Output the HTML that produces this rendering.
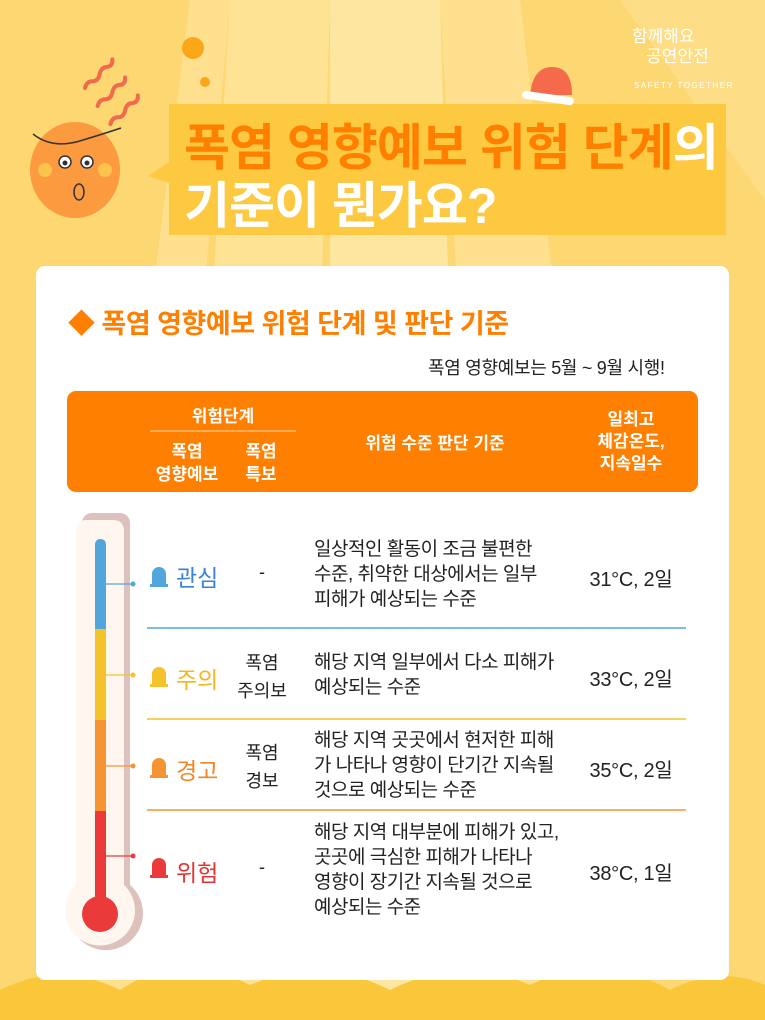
<!DOCTYPE html>
<html><head><meta charset="utf-8"><style>
*{margin:0;padding:0;box-sizing:border-box}
body{width:765px;height:1020px;position:relative;overflow:hidden;background:#fdd772;font-family:"Liberation Sans","Noto Sans CJK KR",sans-serif}
.a{position:absolute}
.t{position:absolute;white-space:nowrap}
.c{text-align:center}
</style></head><body>
<svg class="a" style="left:0;top:0" width="765" height="1020">
<polygon points="190,0 230,0 140,1020 60,1020" fill="#fee08f"/>
<polygon points="230,0 330,0 300,1020 170,1020" fill="#fee395"/>
<polygon points="330,0 440,0 470,1020 330,1020" fill="#fde69f"/>
<polygon points="440,0 520,0 640,1020 500,1020" fill="#fee08f"/>
<polygon points="620,0 765,0 765,200" fill="#fddd85"/>
<path d="M0,1020 L0,990 Q60,960 120,990 Q180,950 250,985 Q320,955 390,990 Q460,955 530,985 Q600,950 670,990 Q720,965 765,985 L765,1020Z" fill="#fbc73a"/>
<circle cx="193" cy="48" r="11" fill="#fba718"/>
<circle cx="205" cy="82" r="5" fill="#fba718"/>
<g stroke="#f26a4e" stroke-width="4" fill="none" stroke-linecap="round">
<path d="M78,78 q5,-5 10,-2 q5,3 10,-3 q5,-5 10,-2 q5,2 8,-4" transform="rotate(-30 100 70) translate(0,0)"/>
<path d="M85,92 q5,-5 10,-2 q5,3 10,-3 q5,-5 10,-2 q5,2 8,-4" transform="rotate(-30 100 70) translate(-5,8)"/>
<path d="M92,106 q5,-5 10,-2 q5,3 10,-3 q5,-5 10,-2 q5,2 8,-4" transform="rotate(-30 100 70) translate(-10,16)"/>
</g>
<ellipse cx="75" cy="170" rx="45" ry="48" fill="#fb9a3f"/>
<circle cx="45" cy="170" r="7" fill="#fcc34d"/><circle cx="105" cy="170" r="7" fill="#fcc34d"/>
<circle cx="65" cy="162" r="6" fill="#fff" stroke="#333" stroke-width="1.5"/><circle cx="65" cy="163" r="2.5" fill="#333"/>
<circle cx="87" cy="162" r="6" fill="#fff" stroke="#333" stroke-width="1.5"/><circle cx="87" cy="163" r="2.5" fill="#333"/>
<ellipse cx="79" cy="192" rx="5" ry="8" fill="none" stroke="#333" stroke-width="1.5"/>
<path d="M33,134 q20,16 50,6 q20,-6 38,-12" stroke="#333" stroke-width="1.5" fill="none"/>
<polygon points="172,160 148,176 172,184" fill="#fdc940"/>
<rect x="169" y="104" width="557" height="131" fill="#fdc940"/>
<path d="M530,95 q3,-28 22,-28 q20,0 20,28z" fill="#f46a4b"/>
<rect x="522" y="94" width="52" height="8" rx="4" fill="#fff" transform="rotate(8 548 98)"/>
<rect x="36" y="266" width="693" height="714" rx="9" fill="#fff"/>
<rect x="67" y="391" width="631" height="101" rx="9" fill="#ff8000"/>
<line x1="150" y1="431" x2="296" y2="431" stroke="#ffd9a8" stroke-width="1"/>
<path d="M92,513 h28 a10,10 0 0 1 10,10 v362 a37,37 0 1 1 -48,0 v-362 a10,10 0 0 1 10,-10z" fill="#ddc1bd"/>
<path d="M86,520 h28 a10,10 0 0 1 10,10 v355 a35,35 0 1 1 -48,0 v-355 a10,10 0 0 1 10,-10z" fill="#fff6f0"/>
<rect x="95" y="539" width="11" height="95" rx="5" fill="#52a6dc"/>
<rect x="95" y="629" width="11" height="91" fill="#f4c22a"/>
<rect x="95" y="720" width="11" height="91" fill="#f69434"/>
<rect x="95" y="811" width="11" height="90" fill="#ea3a3a"/>
<circle cx="100" cy="914" r="18" fill="#ea3a3a"/>
<g stroke-width="1.2">
<line x1="106" y1="584" x2="133" y2="584" stroke="#52a6dc"/><circle cx="133" cy="584" r="2.5" fill="#52a6dc"/>
<line x1="106" y1="675" x2="133" y2="675" stroke="#f4c22a"/><circle cx="133" cy="675" r="2.5" fill="#f4c22a"/>
<line x1="106" y1="766" x2="133" y2="766" stroke="#f69434"/><circle cx="133" cy="766" r="2.5" fill="#f69434"/>
<line x1="106" y1="856" x2="133" y2="856" stroke="#ea3a3a"/><circle cx="133" cy="856" r="2.5" fill="#ea3a3a"/>
</g>
<line x1="147" y1="628" x2="686" y2="628" stroke="#52a6dc" stroke-width="1.5"/>
<line x1="147" y1="719" x2="686" y2="719" stroke="#f4c22a" stroke-width="1.5"/>
<line x1="147" y1="810" x2="686" y2="810" stroke="#f69434" stroke-width="1.5"/>
<g>
<path d="M152,584 v-10 a7,7 0 0 1 14,0 v10z M150,584 h18 v3 h-18z" fill="#52a6dc"/>
<path d="M152,684 v-10 a7,7 0 0 1 14,0 v10z M150,684 h18 v3 h-18z" fill="#f4c22a"/>
<path d="M152,775 v-10 a7,7 0 0 1 14,0 v10z M150,775 h18 v3 h-18z" fill="#f69434"/>
<path d="M152,875 v-10 a7,7 0 0 1 14,0 v10z M150,875 h18 v3 h-18z" fill="#ea3a3a"/>
</g>
</svg>
<div class="t" style="left:632px;top:27px;color:#fff;font-size:17px;line-height:20px">함께해요<br>&nbsp;&nbsp;&nbsp;공연안전</div>
<div class="t" style="left:634px;top:81px;color:#fff;font-size:8px;letter-spacing:1.5px">SAFETY TOGETHER</div>
<div class="t" style="left:184px;top:108px;font-size:50px;font-weight:bold;color:#ff7f00;letter-spacing:-1px">폭염 영향예보 위험 단계<span style="color:#fff">의</span></div>
<div class="t" style="left:184px;top:166px;font-size:50px;font-weight:bold;color:#fff;letter-spacing:-1px">기준이 뭔가요?</div>
<div class="t" style="left:68px;top:302px;font-size:27px;font-weight:bold;color:#ff7f00;letter-spacing:-0.5px">◆ 폭염 영향예보 위험 단계 및 판단 기준</div>
<div class="t" style="left:428px;top:354px;font-size:18px;color:#222;letter-spacing:-0.3px">폭염 영향예보는 5월 ~ 9월 시행!</div>
<div class="t c" style="left:150px;top:402px;width:146px;color:#fff;font-size:17px;font-weight:bold">위험단계</div>
<div class="t c" style="left:142px;top:440px;width:90px;color:#fff;font-size:17px;font-weight:bold;line-height:23px">폭염<br>영향예보</div>
<div class="t c" style="left:226px;top:440px;width:70px;color:#fff;font-size:17px;font-weight:bold;line-height:23px">폭염<br>특보</div>
<div class="t c" style="left:320px;top:429px;width:230px;color:#fff;font-size:17px;font-weight:bold">위험 수준 판단 기준</div>
<div class="t c" style="left:576px;top:409px;width:110px;color:#fff;font-size:17px;font-weight:bold;line-height:22px">일최고<br>체감온도,<br>지속일수</div>
<div class="t" style="left:176px;top:559px;font-size:23px;color:#3b82d6">관심</div>
<div class="t" style="left:176px;top:661px;font-size:23px;color:#f4b61a">주의</div>
<div class="t" style="left:176px;top:752px;font-size:23px;color:#f68426">경고</div>
<div class="t" style="left:176px;top:854px;font-size:23px;color:#e23434">위험</div>
<div class="t c" style="left:232px;top:562px;width:60px;font-size:18px;color:#222">-</div>
<div class="t c" style="left:232px;top:649px;width:60px;font-size:18px;color:#222;line-height:28px">폭염<br>주의보</div>
<div class="t c" style="left:232px;top:739px;width:60px;font-size:18px;color:#222;line-height:28px">폭염<br>경보</div>
<div class="t c" style="left:232px;top:857px;width:60px;font-size:18px;color:#222">-</div>
<div class="t" style="left:314px;top:537px;font-size:19px;color:#222;line-height:25px;letter-spacing:-0.5px">일상적인 활동이 조금 불편한<br>수준, 취약한 대상에서는 일부<br>피해가 예상되는 수준</div>
<div class="t" style="left:314px;top:650px;font-size:19px;color:#222;line-height:25px;letter-spacing:-0.5px">해당 지역 일부에서 다소 피해가<br>예상되는 수준</div>
<div class="t" style="left:314px;top:728px;font-size:19px;color:#222;line-height:25px;letter-spacing:-0.5px">해당 지역 곳곳에서 현저한 피해<br>가 나타나 영향이 단기간 지속될<br>것으로 예상되는 수준</div>
<div class="t" style="left:314px;top:820px;font-size:19px;color:#222;line-height:25px;letter-spacing:-0.5px">해당 지역 대부분에 피해가 있고,<br>곳곳에 극심한 피해가 나타나<br>영향이 장기간 지속될 것으로<br>예상되는 수준</div>
<div class="t c" style="left:576px;top:563px;width:110px;font-size:20px;color:#222;letter-spacing:-0.3px">31°C, 2일</div>
<div class="t c" style="left:576px;top:663px;width:110px;font-size:20px;color:#222;letter-spacing:-0.3px">33°C, 2일</div>
<div class="t c" style="left:576px;top:754px;width:110px;font-size:20px;color:#222;letter-spacing:-0.3px">35°C, 2일</div>
<div class="t c" style="left:576px;top:857px;width:110px;font-size:20px;color:#222;letter-spacing:-0.3px">38°C, 1일</div>
</body></html>
